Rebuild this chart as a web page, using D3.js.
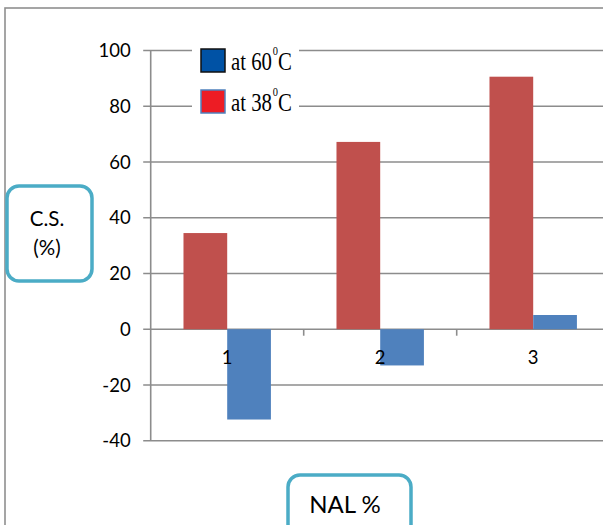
<!DOCTYPE html>
<html><head><meta charset="utf-8">
<script src="https://cdn.jsdelivr.net/npm/d3@7"></script>
<style>
html,body{margin:0;padding:0;background:#fff;}
svg{display:block;}
</style></head>
<body>
<script>
const categories = ["1","2","3"];
const seriesNames = ["at 38", "at 60"];
const valuesAt38 = [34.5, 67.2, 90.6];
const valuesAt60 = [-32.4, -13.0, 5.1];
const yTicks = [-40,-20,0,20,40,60,80,100];
const legendNames = ["at 60", "at 38"];

const W = 603, H = 525;
const svg = d3.select("body").append("svg").attr("width", W).attr("height", H);

// outer frame
svg.append("rect").attr("x",5).attr("y",8).attr("width",640).attr("height",560)
  .attr("fill","#fff").attr("stroke","#8f8f8f").attr("stroke-width",1.6);

const axisX = 150.7;
const y = d3.scaleLinear().domain([-40,100]).range([440.7, 50.5]);
const x = d3.scaleBand().domain(categories).range([axisX, axisX + 3*153]).paddingInner(0).paddingOuter(0);
const bw = x.bandwidth()/3.5;
const xs = d3.scaleBand().domain(seriesNames).range([x.bandwidth()/2 - bw, x.bandwidth()/2 + bw]);

const gridColor = "#8c8c8c";
const font = "Lato, 'Open Sans', sans-serif";

// gridlines + y ticks
const gy = svg.append("g");
yTicks.forEach(t => {
  gy.append("line").attr("x1", axisX-7.5).attr("x2", 620)
    .attr("y1", y(t)).attr("y2", y(t)).attr("stroke", gridColor).attr("stroke-width", 1.6);
  gy.append("text").attr("x", axisX-20).attr("y", y(t)).attr("dy","0.36em")
    .attr("text-anchor","end").attr("font-family",font).attr("font-size",18.5)
    .attr("fill","#000").text(t);
});
// y axis line
svg.append("line").attr("x1",axisX).attr("x2",axisX).attr("y1",y(100)).attr("y2",y(-40))
  .attr("stroke",gridColor).attr("stroke-width",1.6);

// category tick marks
categories.forEach((c,i) => {
  if (i>0) svg.append("line").attr("x1",x(c)).attr("x2",x(c)).attr("y1",y(0)).attr("y2",y(0)+6.5)
    .attr("stroke",gridColor).attr("stroke-width",1.6);
});

// bars
const data = categories.map((c,i)=>({c, v38: valuesAt38[i], v60: valuesAt60[i]}));
const bars = svg.append("g");
data.forEach(d => {
  bars.append("rect").attr("x", x(d.c)+xs("at 38")).attr("width", xs.bandwidth())
    .attr("y", y(Math.max(0,d.v38))).attr("height", Math.abs(y(d.v38)-y(0)))
    .attr("fill","#C0504D");
  bars.append("rect").attr("x", x(d.c)+xs("at 60")).attr("width", xs.bandwidth())
    .attr("y", y(Math.max(0,d.v60))).attr("height", Math.abs(y(d.v60)-y(0)))
    .attr("fill","#4F81BD");
});

// category labels
categories.forEach(c => {
  svg.append("text").attr("x", x(c)+x.bandwidth()/2).attr("y", 357).attr("dy","0.36em")
    .attr("text-anchor","middle").attr("font-family",font).attr("font-size",18.5).text(c);
});

// legend
const lg = svg.append("g");
lg.append("rect").attr("x",192).attr("y",40).attr("width",107).attr("height",78).attr("fill","#fff");
const legendFill = ["#0052A5","#ED1C24"];
const legendStroke = ["#111","#4F81BD"];
const rowY = [49, 90];
legendNames.forEach((n,i)=>{
  lg.append("rect").attr("x",201).attr("y",rowY[i]).attr("width",24).attr("height",23)
    .attr("fill",legendFill[i]).attr("stroke",legendStroke[i]).attr("stroke-width",1.5);
  const t = lg.append("text").attr("transform",`translate(231,${rowY[i]+21}) scale(0.8,1)`)
    .attr("font-family","'Liberation Serif', 'Times New Roman', serif").attr("font-size",26).attr("fill","#000");
  t.append("tspan").text(n);
  t.append("tspan").attr("font-size",13).attr("dy",-15).attr("dx",1).text("0");
  t.append("tspan").attr("dy",15).attr("dx",0).text("C");
});

// rounded label boxes
const boxColor = "#4BACC6";
svg.append("rect").attr("x",7).attr("y",186).attr("width",85).attr("height",95).attr("rx",12)
  .attr("fill","#fff").attr("stroke",boxColor).attr("stroke-width",3.5);
svg.append("text").attr("x",47).attr("y",226).attr("text-anchor","middle").attr("font-family",font)
  .attr("font-size",20.5).text("C.S.");
svg.append("text").attr("x",47).attr("y",255).attr("text-anchor","middle").attr("font-family",font)
  .attr("font-size",20.5).text("(%)");

svg.append("rect").attr("x",288).attr("y",475).attr("width",123).attr("height",80).attr("rx",12)
  .attr("fill","#fff").attr("stroke",boxColor).attr("stroke-width",3.5);
svg.append("text").attr("x",345).attr("y",513).attr("text-anchor","middle").attr("font-family",font)
  .attr("font-size",24).text("NAL %");
</script>
</body></html>
